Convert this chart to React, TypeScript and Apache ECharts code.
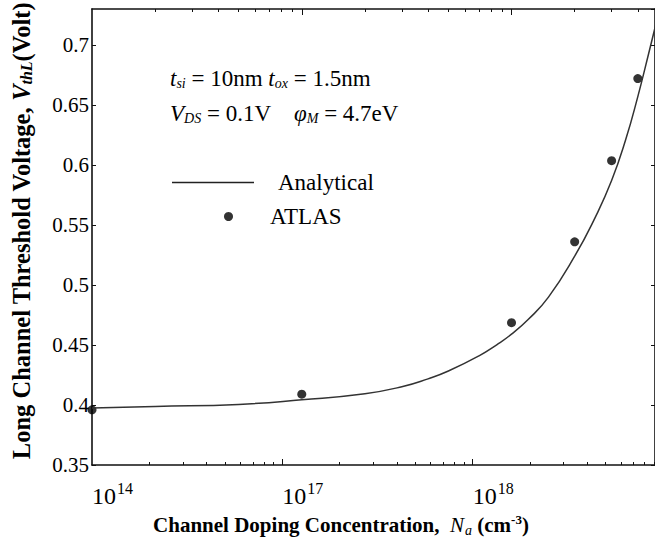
import React, { useEffect, useRef } from "react";
import * as echarts from "echarts";

// Analytical model curve (N_a in cm^-3, V_thL in volts)
const analyticalN = [1e16, 2e16, 5e16, 1e17, 2e17, 3e17, 4e17, 5e17, 7e17, 8.5e17, 1e18, 1.2e18, 1.5e18, 2e18, 2.5e18, 3e18, 3.5e18, 4e18, 4.5e18, 5e18];
const analyticalV = [0.3975, 0.3988, 0.4005, 0.4043, 0.4094, 0.4152, 0.4218, 0.4283, 0.441, 0.4502, 0.459, 0.4712, 0.4899, 0.524, 0.556, 0.587, 0.621, 0.657, 0.6925, 0.725];

// ATLAS simulation points
const atlasN = [1e16, 1e17, 1e18, 2e18, 3e18, 4e18];
const atlasV = [0.396, 0.409, 0.4686, 0.536, 0.6036, 0.672];

// Bottom axis tick positions (decades) and their printed exponents
const bottomTickDecades = [16, 17, 18];
const bottomTickExponents = ["14", "17", "18"];

const SERIF = "'Liberation Serif', 'Times New Roman', serif";

const log10 = (v: number) => Math.log10(v);
const minorTicks = (decades: number[], lo: number, hi: number) => {
  const out: number[] = [];
  decades.forEach((d) => {
    for (let k = 2; k <= 9; k++) {
      const v = d + Math.log10(k);
      if (v > lo && v < hi) out.push(v);
    }
  });
  return out;
};

export default function App() {
  const ref = useRef<HTMLDivElement>(null);
  useEffect(() => {
    if (!ref.current) return;
    const chart = echarts.init(ref.current, undefined, { renderer: "svg" });
    const topMin = 16, topMax = 18.684;
    const botMin = 16, botMax = 18.958;
    const axisLine = { show: true, lineStyle: { color: "#111", width: 1.6 } };
    const noLine = { show: false };
    const frameAxisBase = {
      type: "value" as const,
      gridIndex: 0,
      splitLine: { show: false },
    };
    const option: any = {
      animation: false,
      backgroundColor: "#fff",
      grid: { left: 92, right: -2, top: 9, bottom: 74, containLabel: false },
      xAxis: [
        {
          ...frameAxisBase,
          position: "top",
          min: topMin,
          max: topMax,
          axisLine,
          axisTick: { show: true, inside: true, length: 6, customValues: [17, 18], lineStyle: { color: "#111" } },
          axisLabel: { show: false },
        },
        {
          ...frameAxisBase,
          position: "top",
          min: topMin,
          max: topMax,
          axisLine: noLine,
          axisTick: { show: true, inside: true, length: 3, customValues: minorTicks([16, 17, 18], topMin, topMax), lineStyle: { color: "#111" } },
          axisLabel: { show: false },
        },
        {
          ...frameAxisBase,
          position: "bottom",
          min: botMin,
          max: botMax,
          axisLine,
          axisTick: { show: true, inside: true, length: 6, customValues: [17, 18], lineStyle: { color: "#111" } },
          axisLabel: {
            show: true,
            customValues: bottomTickDecades,
            align: "left",
            margin: 15,
            color: "#000",
            formatter: (v: number) => {
              const i = bottomTickDecades.findIndex((t) => Math.abs(t - v) < 1e-6);
              return i < 0 ? "" : `{b|10}{p|${bottomTickExponents[i]}}`;
            },
            rich: {
              b: { fontFamily: SERIF, fontSize: 24, color: "#000" },
              p: { fontFamily: SERIF, fontSize: 16, color: "#000", padding: [0, 0, 16, 1] },
            },
          },
        },
        {
          ...frameAxisBase,
          position: "bottom",
          min: botMin,
          max: botMax,
          axisLine: noLine,
          axisTick: { show: true, inside: true, length: 3, customValues: minorTicks([16, 17, 18], botMin, botMax), lineStyle: { color: "#111" } },
          axisLabel: { show: false },
        },
      ],
      yAxis: [
        {
          type: "value",
          position: "left",
          min: 0.35,
          max: 0.73,
          interval: 0.05,
          splitLine: { show: false },
          axisLine,
          axisTick: { show: true, inside: true, length: 4, lineStyle: { color: "#111" } },
          axisLabel: {
            color: "#000",
            fontFamily: SERIF,
            fontSize: 21,
            margin: 3,
            showMaxLabel: false,
          },
        },
        {
          type: "value",
          position: "right",
          min: 0.35,
          max: 0.73,
          interval: 0.05,
          splitLine: { show: false },
          axisLine,
          axisTick: { show: true, inside: true, length: 4, lineStyle: { color: "#111" } },
          axisLabel: { show: false },
        },
      ],
      legend: [
        {
          data: [{ name: "Analytical", icon: "rect" }],
          left: 172,
          top: 171,
          padding: 0,
          itemWidth: 82,
          itemHeight: 1.5,
          itemStyle: { color: "#222" },
          textStyle: { fontFamily: SERIF, fontSize: 23, color: "#000", padding: [0, 0, 0, 19] },
        },
        {
          data: [{ name: "ATLAS", icon: "circle" }],
          left: 224,
          top: 205,
          padding: 0,
          itemWidth: 9,
          itemHeight: 9,
          textStyle: { fontFamily: SERIF, fontSize: 23, color: "#000", padding: [0, 0, 0, 32] },
        },
      ],
      series: [
        {
          name: "Analytical",
          type: "line",
          xAxisIndex: 0,
          yAxisIndex: 0,
          data: analyticalN.map((n, i) => [log10(n), analyticalV[i]]),
          smooth: 0.5,
          symbol: "none",
          showSymbol: false,
          clip: true,
          lineStyle: { color: "#333", width: 1.5 },
          itemStyle: { color: "#333" },
        },
        {
          name: "ATLAS",
          type: "scatter",
          xAxisIndex: 0,
          yAxisIndex: 0,
          data: atlasN.map((n, i) => [log10(n), atlasV[i]]),
          symbol: "circle",
          symbolSize: 9,
          clip: false,
          itemStyle: { color: "#000" },
        },
      ],
      graphic: [
        {
          type: "text",
          x: 170,
          y: 78,
          style: {
            text: "{i|t}{s|si}{r| = 10nm }{i|t}{s|ox}{r| = 1.5nm}",
            textVerticalAlign: "middle",
            rich: {
              i: { fontFamily: SERIF, fontSize: 23, fontStyle: "italic", fill: "#000" },
              s: { fontFamily: SERIF, fontSize: 14, fontStyle: "italic", fill: "#000", padding: [11, 0, 0, 0] },
              r: { fontFamily: SERIF, fontSize: 23, fill: "#000" },
            },
          },
        },
        {
          type: "text",
          x: 170,
          y: 113,
          style: {
            text: "{i|V}{s|DS}{r| = 0.1V    }{i|φ}{s|M}{r| = 4.7eV}",
            textVerticalAlign: "middle",
            rich: {
              i: { fontFamily: SERIF, fontSize: 23, fontStyle: "italic", fill: "#000" },
              s: { fontFamily: SERIF, fontSize: 14, fontStyle: "italic", fill: "#000", padding: [11, 0, 0, 0] },
              r: { fontFamily: SERIF, fontSize: 23, fill: "#000" },
            },
          },
        },
        {
          type: "text",
          x: 21,
          y: 231,
          rotation: Math.PI / 2,
          style: {
            text: "{b|Long Channel Threshold Voltage, }{v|V}{s|thL}{b|(Volt)}",
            textAlign: "center",
            textVerticalAlign: "middle",
            rich: {
              b: { fontFamily: SERIF, fontSize: 24.5, fontWeight: "bold", fill: "#000" },
              v: { fontFamily: SERIF, fontSize: 24.5, fontWeight: "bold", fontStyle: "italic", fill: "#000" },
              s: { fontFamily: SERIF, fontSize: 16, fontWeight: "bold", fontStyle: "italic", fill: "#000", padding: [11, 0, 0, 0] },
            },
          },
        },
        {
          type: "text",
          x: 341,
          y: 525,
          style: {
            text: "{b|Channel Doping Concentration,  }{n|N}{s|a}{b| (cm}{p|-3}{b|)}",
            textAlign: "center",
            textVerticalAlign: "middle",
            rich: {
              b: { fontFamily: SERIF, fontSize: 21, fontWeight: "bold", fill: "#000" },
              n: { fontFamily: SERIF, fontSize: 21, fontStyle: "italic", fill: "#000" },
              s: { fontFamily: SERIF, fontSize: 14, fontStyle: "italic", fill: "#000", padding: [10, 0, 0, 1] },
              p: { fontFamily: SERIF, fontSize: 13, fontWeight: "bold", fill: "#000", padding: [0, 0, 12, 0] },
            },
          },
        },
      ],
    };
    chart.setOption(option);
    return () => chart.dispose();
  }, []);
  return (
    <div
      ref={ref}
      style={{ position: "absolute", left: 0, top: 0, width: 655, height: 539, background: "#fff" }}
    />
  );
}
